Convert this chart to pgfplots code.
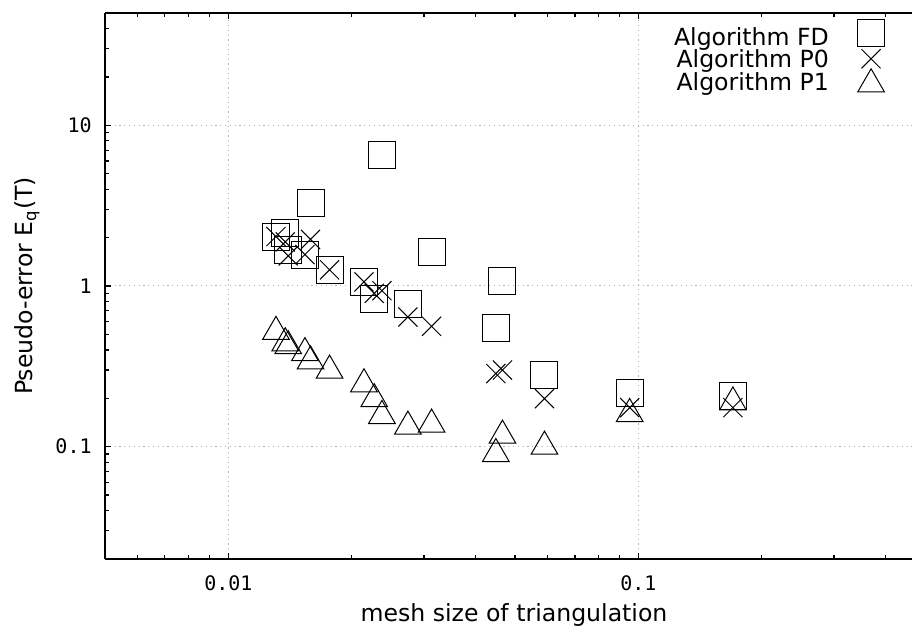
\documentclass[border=0pt]{standalone}
\usepackage{pgfplots}
\pgfplotsset{compat=1.18}
\usepackage{fontspec}
\setmainfont{DejaVu Sans}
\setmonofont{DejaVu Sans Mono}

% Pseudo-error of the three algorithms against mesh size h
\pgfplotstableread{
h        err
0.01306  2.03
0.01376  2.15
0.01399  1.68
0.01537  1.57
0.01586  3.29
0.01765  1.26
0.02141  1.06
0.02268  0.826
0.02368  6.52
0.0274   0.776
0.0313   1.62
0.0449   0.548
0.0466   1.07
0.0590   0.278
0.0952   0.216
0.170    0.206
}\fdtable
\pgfplotstableread{
h        err
0.01306  2.03
0.01376  1.88
0.01399  1.54
0.01537  1.57
0.01586  1.95
0.01765  1.26
0.02141  1.06
0.02268  0.90
0.02368  0.935
0.0274   0.641
0.0313   0.561
0.0449   0.285
0.0466   0.300
0.0590   0.199
0.0952   0.175
0.170    0.175
}\pzerotable
\pgfplotstableread{
h        err
0.01306  0.519
0.01376  0.441
0.01399  0.423
0.01537  0.383
0.01586  0.340
0.01765  0.298
0.02141  0.245
0.02268  0.198
0.02368  0.1556
0.0274   0.1336
0.0313   0.1375
0.0449   0.0902
0.0466   0.1174
0.0590   0.1002
0.0952   0.160
0.170    0.189
}\ponetable

% legend sample: one mark, raised by #1 above the text baseline,
% inside a fixed cell so the rows stay as tight as the text
\newcommand\legendmark[2]{%
  \pgfpathrectangle{\pgfpoint{0pt}{-2.7pt}}{\pgfpoint{13.5pt}{11.4pt}}%
  \pgfusepath{use as bounding box}%
  \draw[#2, overlay] plot coordinates {(6.75pt,#1)};}
\pgfplotsset{
  fdlegend/.style={legend image code/.code={\legendmark{3.4pt}{##1}}},
  pzerolegend/.style={legend image code/.code={\legendmark{1.6pt}{##1}}},
  ponelegend/.style={legend image code/.code={\legendmark{0pt}{##1}}},
}

\begin{document}
\begin{tikzpicture}
\begin{axis}[
  name=ax,
  xmode=log, ymode=log,
  scale only axis,
  width=403.5pt, height=273pt,
  xmin=0.005, xmax=0.4647,
  ymin=0.02, ymax=50,
  axis y line*=left,
  axis line style={line width=0.8pt},
  xtick={0.01,0.1}, xticklabels={0.01,0.1},
  ytick={0.1,1,10}, yticklabels={0.1,1,10},
  minor xtick={0.006,0.007,0.008,0.009,0.02,0.03,0.04,0.05,0.06,0.07,0.08,0.09,0.2,0.3,0.4},
  minor ytick={0.03,0.04,0.05,0.06,0.07,0.08,0.09,0.2,0.3,0.4,0.5,0.6,0.7,0.8,0.9,2,3,4,5,6,7,8,9,20,30,40},
  tick align=inside,
  major tick length=3.2pt,
  minor tick length=2pt,
  every tick/.style={black, line width=0.6pt},
  grid=major,
  major grid style={gray!60, line width=0.5pt, dash pattern=on 0.6pt off 1.8pt},
  tick label style={font=\ttfamily\fontsize{10}{12}\selectfont},
  xticklabel style={anchor=base, yshift=-16pt},
  yticklabel style={anchor=east, inner sep=0pt, xshift=-6.5pt},
  xlabel={mesh size of triangulation},
  ylabel={Pseudo-error E\textsubscript{q}(T)},
  every axis x label/.style={at={([xshift=2.75pt,yshift=-31.5pt]axis description cs:0.5,0)},
    anchor=base, font=\fontsize{11.8}{14}\selectfont},
  every axis y label/.style={at={([xshift=-39pt]axis description cs:0,0.5)},
    rotate=90, anchor=center, font=\fontsize{11.8}{14}\selectfont},
  legend style={draw=none, fill=none, inner sep=0pt, at={(rel axis cs:1,1)}, anchor=north east,
    xshift=-13.5pt, yshift=-4.5pt, font=\fontsize{11.8}{13}\selectfont,
    row sep=-3.3pt, column sep=14.35pt,
    nodes={inner sep=0pt, text height=8.7pt, text depth=2.7pt}},
  legend cell align=right,
  legend plot pos=right,
  marks/.style={black, only marks, mark options={line width=0.5pt}},
]
\addplot[marks, mark=square, mark size=6.75pt, fdlegend]
  table[x=h, y=err] {\fdtable};
\addlegendentry{Algorithm FD}
\addplot[marks, mark=x, mark size=6.75pt, pzerolegend]
  table[x=h, y=err] {\pzerotable};
\addlegendentry{Algorithm P0}
\addplot[marks, mark=triangle, mark size=7.7pt, ponelegend]
  table[x=h, y=err] {\ponetable};
\addlegendentry{Algorithm P1}
\end{axis}
\pgfresetboundingbox
\path[use as bounding box] ([xshift=-52.5pt,yshift=-35.5pt]ax.south west) rectangle ([yshift=6.5pt]ax.north east);
\end{tikzpicture}
\end{document}
